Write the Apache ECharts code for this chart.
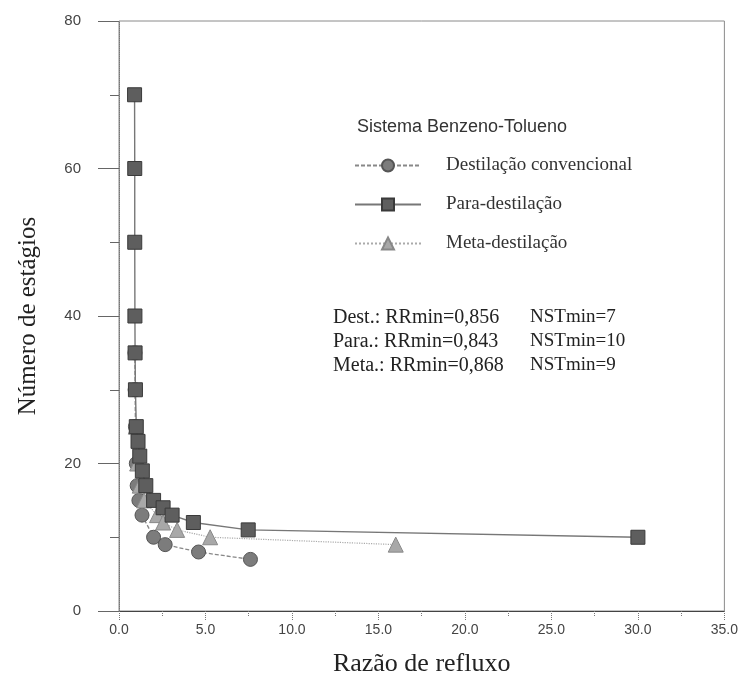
<!DOCTYPE html>
<html>
<head>
<meta charset="utf-8">
<script src="https://cdn.jsdelivr.net/npm/echarts@6/dist/echarts.min.js"></script>
<style>
  html, body { margin: 0; padding: 0; background: #fff; }
  #chart { width: 741px; height: 689px; }
</style>
</head>
<body>
<div id="chart"></div>
<script>
// Reflux ratio (x) and number of stages (y) for each distillation scheme
const seriesNames = ['Destilação convencional', 'Para-destilação', 'Meta-destilação'];

const refluxDest = [0.92, 0.93, 0.95, 1.0, 1.05, 1.15, 1.33, 2.0, 2.67, 4.6, 7.6];
const stagesDest = [35, 30, 25, 20, 17, 15, 13, 10, 9, 8, 7];

const refluxPara = [0.9, 0.91, 0.91, 0.92, 0.93, 0.95, 1.0, 1.1, 1.2, 1.35, 1.55, 2.0, 2.55, 3.07, 4.3, 7.47, 30.0];
const stagesPara = [70, 60, 50, 40, 35, 30, 25, 23, 21, 19, 17, 15, 14, 13, 12, 11, 10];

const refluxMeta = [0.97, 1.05, 1.2, 1.45, 2.2, 2.55, 3.36, 5.27, 16.0];
const stagesMeta = [25, 20, 17, 15, 13, 12, 11, 10, 9];

const summaryLines = [
  ['Dest.: RRmin=0,856', 'NSTmin=7'],
  ['Para.: RRmin=0,843', 'NSTmin=10'],
  ['Meta.: RRmin=0,868', 'NSTmin=9']
];

const xTicks = { min: 0, max: 35, interval: 5 };
const yTicks = { min: 0, max: 80, interval: 20 };

const pairs = (xs, ys) => xs.map((x, i) => [x, ys[i]]);

const serif = '"Liberation Serif", "DejaVu Serif", serif';
const sans = '"Liberation Sans", Arial, sans-serif';

const chart = echarts.init(document.getElementById('chart'));
chart.setOption({
  backgroundColor: '#fff',
  animation: false,
  title: {
    text: 'Sistema Benzeno-Tolueno',
    left: 352, top: 113,
    textStyle: { fontFamily: sans, fontSize: 18, fontWeight: 'normal', color: '#333' }
  },
  legend: {
    orient: 'vertical',
    left: 349, top: 151,
    itemWidth: 66, itemHeight: 15, itemGap: 20,
    data: seriesNames,
    textStyle: { fontFamily: serif, fontSize: 19, color: '#333', padding: [0, 0, 0, 20] }
  },
  grid: {
    left: 119, right: 15, top: 21, bottom: 78,
    show: true, borderColor: '#8a8a8a', borderWidth: 1
  },
  xAxis: {
    type: 'value',
    min: xTicks.min, max: xTicks.max, interval: xTicks.interval,
    name: 'Razão de refluxo', nameLocation: 'middle', nameGap: 40,
    nameTextStyle: { fontFamily: serif, fontSize: 26, color: '#222' },
    axisLine: { show: true, lineStyle: { color: '#444', width: 1 } },
    axisTick: { show: true, length: 10, lineStyle: { color: '#777', type: 'dotted' } },
    minorTick: { show: true, splitNumber: 2, length: 6, lineStyle: { color: '#777', type: 'dotted' } },
    axisLabel: { fontFamily: sans, fontSize: 14, color: '#444', margin: 12,
                 formatter: v => v.toFixed(1) },
    splitLine: { show: false }
  },
  yAxis: {
    type: 'value',
    min: yTicks.min, max: yTicks.max, interval: yTicks.interval,
    name: 'Número de estágios', nameLocation: 'middle', nameGap: 78, nameRotate: 90,
    nameTextStyle: { fontFamily: serif, fontSize: 25, color: '#222' },
    axisLine: { show: true, lineStyle: { color: '#777', width: 1, type: 'dotted' } },
    axisTick: { show: true, length: 21, lineStyle: { color: '#666' } },
    minorTick: { show: true, splitNumber: 2, length: 9, lineStyle: { color: '#666' } },
    axisLabel: { fontFamily: sans, fontSize: 15, color: '#444', margin: 38 },
    splitLine: { show: false }
  },
  graphic: summaryLines.flatMap((line, i) => [
    { type: 'text', left: 333, top: 308 + i * 24,
      style: { text: line[0], font: '20px ' + serif, fill: '#222' } },
    { type: 'text', left: 530, top: 308 + i * 24,
      style: { text: line[1], font: '19px ' + serif, fill: '#222' } }
  ]),
  series: [
    {
      name: seriesNames[0], type: 'line', data: pairs(refluxDest, stagesDest),
      symbol: 'circle', symbolSize: 14, z: 3,
      itemStyle: { color: '#7c7c7c', borderColor: '#555', borderWidth: 1 },
      lineStyle: { color: '#888', width: 1.3, type: [4, 2] }
    },
    {
      name: seriesNames[1], type: 'line', data: pairs(refluxPara, stagesPara),
      symbol: 'rect', symbolSize: 14, z: 4,
      itemStyle: { color: '#5e5e5e', borderColor: '#3a3a3a', borderWidth: 1 },
      lineStyle: { color: '#777', width: 1.4, type: 'solid' }
    },
    {
      name: seriesNames[2], type: 'line', data: pairs(refluxMeta, stagesMeta),
      symbol: 'triangle', symbolSize: 15, z: 3,
      itemStyle: { color: '#a8a8a8', borderColor: '#888', borderWidth: 1 },
      lineStyle: { color: '#aaa', width: 1.2, type: 'dotted' }
    }
  ]
});
</script>
</body>
</html>
